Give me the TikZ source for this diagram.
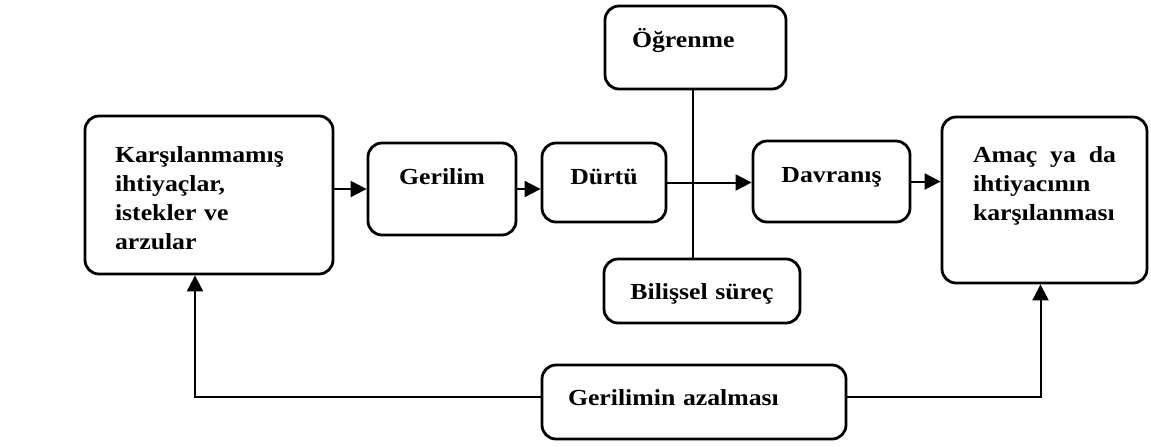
\documentclass[tikz,border=0pt]{standalone}
\usepackage{fontspec}
\newfontfamily\diagfont{Liberation Serif}[FakeStretch=1.12]
\usepackage{tikz}
\usetikzlibrary{
  positioning, calc, arrows.meta
}
\tikzset{
	boxnode/.style={
			shape=rectangle,
			draw=black,
			line width=1.4pt,
			rounded corners=7pt,
			fill=white,
			inner ysep=0pt,
			inner xsep=0pt,
			font=\diagfont\bfseries\fontsize{11.5}{14.5}\selectfont
		},
	centerbox/.style={
			boxnode,
			align=center
		},
	leftbox/.style={
			boxnode,
			align=left
		}
}
\tikzset{
	plainline/.style={line width=1pt, draw=black},
	arrowline/.style={plainline, -{Triangle[length=8pt,width=8pt]}}
}
\begin{document}
\begin{tikzpicture}[x=0.5pt, y=0.5pt]

  \useasboundingbox (0,0) rectangle (1151,-446);

  \node[leftbox, inner xsep=15pt, text width=94pt, text height=23pt, text depth=56pt] (m1) at (209,-195) {Karşılanmamış\\ihtiyaçlar,\\istekler ve\\arzular};
  \node[centerbox, text width=74pt, text height=20.5pt, text depth=25.5pt] (m2) at (442,-189) {Gerilim};
  \node[centerbox, text width=62pt, text height=20.5pt, text depth=19pt] (m3) at (604,-182.5) {Dürtü};
  \node[centerbox, text width=78.5pt, text height=20.5pt, text depth=20pt] (m4) at (831.5,-181.5) {Davranış};
  \node[leftbox, inner xsep=15.5pt, text width=71.5pt, text height=22.5pt, text depth=60.5pt] (m5) at (1044.5,-200) {Amaç\hfill ya\hfill da\\ihtiyacının\\karşılanması};

  \node[leftbox, inner xsep=13.5pt, text width=63.5pt, text height=20.5pt, text depth=21pt] (t1) at (695.5,-47.5) {Öğrenme};
  \node[centerbox, text width=98pt, text height=20pt, text depth=12pt] (t2) at (702,-291) {Bilişsel süreç};
  \node[leftbox, inner xsep=13pt, text width=126pt, text height=20pt, text depth=17pt] (g1) at (694,-402) {Gerilimin azalması};

  \draw[arrowline] (m1.east |- m2.west) -- (m2.west);
  \draw[arrowline] (m2.east) -- (m2.east -| m3.west);
  \draw[arrowline] (m3.east) -- (m3.east -| m4.west);
  \draw[arrowline] (m4.east) -- (m4.east -| m5.west);

  \draw[plainline] ([xshift=-1.25pt]t1.south) -- ([xshift=-1.25pt]t1.south |- t2.north);

  \draw[arrowline] ([yshift=2.5pt]g1.west) -| ([xshift=-7pt]m1.south);
  \draw[arrowline] ([yshift=2.5pt]g1.east) -| ([xshift=-2pt]m5.south);

\end{tikzpicture}
\end{document}
